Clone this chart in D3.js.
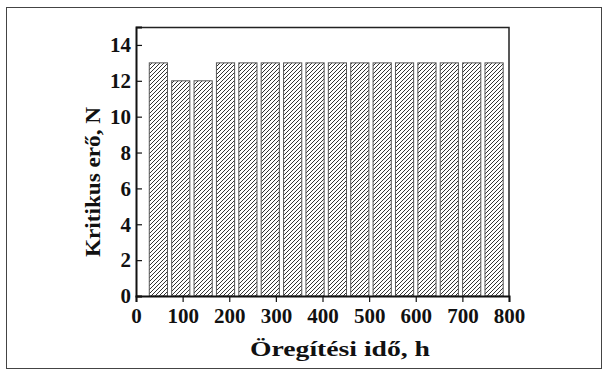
<!DOCTYPE html>
<html>
<head>
<meta charset="utf-8">
<script src="https://cdn.jsdelivr.net/npm/d3@7"></script>
<style>
  body { margin: 0; background: #fff; }
  svg text { font-family: "Liberation Serif", "Times New Roman", serif; font-weight: bold; fill: #111; }
</style>
</head>
<body>
<svg id="chart" width="603" height="370"></svg>
<script>
// aging time (h) and critical force (N)
const hours = [48, 96, 144, 192, 240, 288, 336, 384, 432, 480, 528, 576, 624, 672, 720, 768];
const force = [13, 12, 12, 13, 13, 13, 13, 13, 13, 13, 13, 13, 13, 13, 13, 13];
const xTicks = [0, 100, 200, 300, 400, 500, 600, 700, 800];
const yTicks = [0, 2, 4, 6, 8, 10, 12, 14];
const xTitle = "Öregítési idő, h";
const yTitle = "Kritikus erő, N";

const margin = { left: 136, top: 27, right: 94, bottom: 74 };
const width = 603, height = 370;
const innerW = width - margin.left - margin.right;
const innerH = height - margin.top - margin.bottom;

const svg = d3.select('#chart');

// outer frame of the figure
svg.append('rect')
  .attr('x', 6.5).attr('y', 7.5)
  .attr('width', 595).attr('height', 361)
  .attr('fill', 'none').attr('stroke', '#444').attr('stroke-width', 1);

const defs = svg.append('defs');
const pat = defs.append('pattern')
  .attr('id', 'hatch')
  .attr('patternUnits', 'userSpaceOnUse')
  .attr('width', 4).attr('height', 4);
pat.append('path')
  .attr('d', 'M-1,1 l2,-2 M0,4 l4,-4 M3,5 l2,-2')
  .attr('stroke', '#333').attr('stroke-width', 1);

const x = d3.scaleLinear().domain([0, 800]).range([0, innerW]);
const y = d3.scaleLinear().domain([0, 15]).range([innerH, 0]);

const g = svg.append('g').attr('transform', `translate(${margin.left},${margin.top})`);

const barW = x(39) - x(0);
g.selectAll('rect.bar')
  .data(hours)
  .enter()
  .append('rect')
  .attr('class', 'bar')
  .attr('x', (d) => x(d) - barW / 2)
  .attr('y', (d, i) => y(force[i]))
  .attr('width', barW)
  .attr('height', (d, i) => y(0) - y(force[i]))
  .attr('fill', 'url(#hatch)')
  .attr('stroke', '#555')
  .attr('stroke-width', 1);

// plot frame top and right
g.append('path')
  .attr('d', `M0,0.5 H${innerW} V${innerH}`)
  .attr('fill', 'none').attr('stroke', '#222').attr('stroke-width', 1.5);

// x axis
const xAxis = g.append('g').attr('transform', `translate(0,${innerH})`);
xAxis.call(d3.axisBottom(x).tickValues(d3.range(50, 800, 100)).tickSize(4).tickFormat(''));
xAxis.call(d3.axisBottom(x).tickValues(xTicks).tickSize(6).tickPadding(6).tickFormat(d3.format('d')));
xAxis.selectAll('path.domain').attr('stroke', '#111').attr('stroke-width', 2);
xAxis.selectAll('line').attr('stroke', '#111').attr('stroke-width', 1.2);
xAxis.selectAll('text').attr('font-size', 21).attr('fill', '#111');

// y axis, ticks inward
const yAxis = g.append('g');
yAxis.call(d3.axisRight(y).tickValues(d3.range(1, 15, 2)).tickSize(3).tickFormat(''));
yAxis.call(d3.axisRight(y).tickValues(yTicks).tickSize(6).tickFormat(''));
yAxis.selectAll('path.domain').attr('stroke', '#111').attr('stroke-width', 2);
yAxis.selectAll('line').attr('stroke', '#111').attr('stroke-width', 1.2);

g.append('g').selectAll('text')
  .data(yTicks)
  .enter()
  .append('text')
  .attr('x', -5)
  .attr('y', (d) => y(d))
  .attr('dy', '0.35em')
  .attr('text-anchor', 'end')
  .attr('font-size', 21)
  .text((d) => d);

svg.append('text')
  .attr('x', 340).attr('y', 356)
  .attr('text-anchor', 'middle')
  .attr('font-size', 20)
  .attr('textLength', 180)
  .attr('lengthAdjust', 'spacingAndGlyphs')
  .text(xTitle);

svg.append('text')
  .attr('transform', 'translate(100,182) rotate(-90)')
  .attr('text-anchor', 'middle')
  .attr('font-size', 20)
  .attr('textLength', 150)
  .attr('lengthAdjust', 'spacingAndGlyphs')
  .text(yTitle);
</script>
</body>
</html>
